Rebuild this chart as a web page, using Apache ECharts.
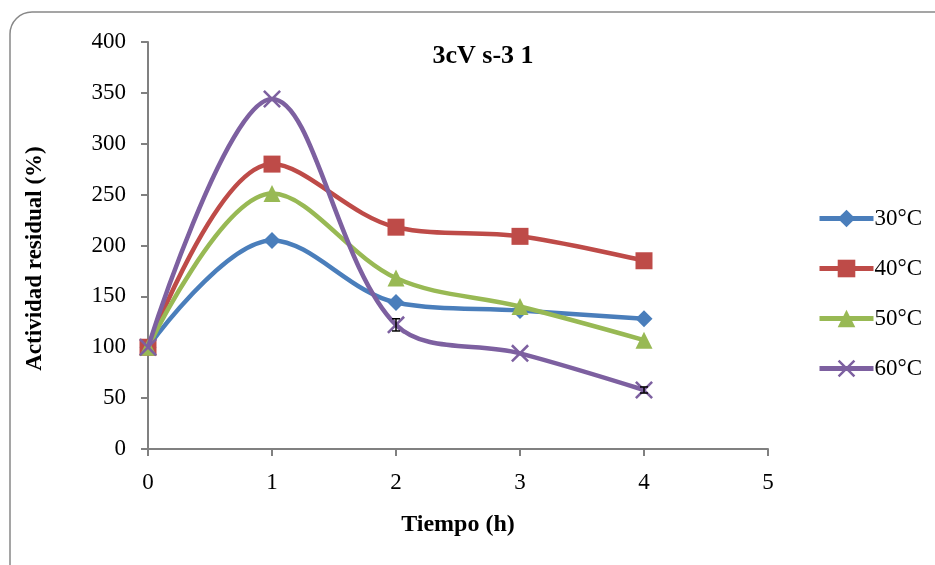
<!DOCTYPE html>
<html>
<head>
<meta charset="utf-8">
<script src="https://cdn.jsdelivr.net/npm/echarts@6/dist/echarts.min.js"></script>
<style>
  html, body { margin: 0; padding: 0; background: #fff; }
  #chart { width: 935px; height: 565px; }
</style>
</head>
<body>
<div id="chart"></div>
<script>
// 时间 (h)
const tiempo = [0, 1, 2, 3, 4];
const nombres = ["30°C", "40°C", "50°C", "60°C"];
const s30 = [100, 205, 144, 136, 128];
const s40 = [100, 280, 218, 209, 185];
const s50 = [100, 251, 168, 140, 107];
const s60 = [100, 344, 122, 94, 58];
// 误差棒 (只有 60°C 看得见)
const err60 = [0, 0, 6, 0, 3];

const colores = ["#4A7EBB", "#BE4B48", "#98B954", "#7D60A0"];
const simbolos = [
  "diamond",
  "rect",
  "triangle",
  "path://M0,1L1,0L10,9L9,10ZM9,0L10,1L1,10L0,9Z",
];
const tamanos = [17, 17, 17, 18];
const fuente = "'Liberation Serif', 'DejaVu Serif', serif";

const valores = [s30, s40, s50, s60];

let series = valores.map((v, i) => {
  return {
    name: nombres[i],
    type: "line",
    smooth: 0.35,
    data: tiempo.map((t, k) => [t, v[k]]),
    symbol: simbolos[i],
    symbolSize: tamanos[i],
    lineStyle: { width: 4.5, color: colores[i] },
    itemStyle: { color: colores[i] },
    z: 2 + i,
  };
});

// 误差棒
series.push({
  type: "custom",
  z: 10,
  silent: true,
  data: tiempo.map((t, k) => [t, s60[k], err60[k]]),
  renderItem: function (params, api) {
    const e = api.value(2);
    if (!e) return null;
    const top = api.coord([api.value(0), api.value(1) + e]);
    const bot = api.coord([api.value(0), api.value(1) - e]);
    const w = 4;
    const st = { stroke: "#000", lineWidth: 1.5 };
    return {
      type: "group",
      children: [
        { type: "line", shape: { x1: top[0], y1: top[1], x2: bot[0], y2: bot[1] }, style: st },
        { type: "line", shape: { x1: top[0] - w, y1: top[1], x2: top[0] + w, y2: top[1] }, style: st },
        { type: "line", shape: { x1: bot[0] - w, y1: bot[1], x2: bot[0] + w, y2: bot[1] }, style: st },
      ],
    };
  },
});

const option = {
  backgroundColor: "#fff",
  animation: false,
  title: {
    text: "3cV s-3 1",
    left: 478,
    textAlign: "center",
    top: 38,
    textStyle: { fontFamily: fuente, fontSize: 26, fontWeight: "bold", color: "#000" },
  },
  graphic: [
    {
      type: "rect",
      shape: { x: 10, y: 12, width: 960, height: 600, r: 22 },
      style: { fill: "none", stroke: "#888", lineWidth: 1.5 },
      z: -1,
    },
  ],
  legend: {
    orient: "vertical",
    left: 812,
    top: 202,
    itemGap: 27,
    itemWidth: 54,
    itemHeight: 22,
    data: nombres,
    lineStyle: { width: 5 },
    textStyle: { fontFamily: fuente, fontSize: 23, color: "#000", padding: [0, 0, 0, -4] },
  },
  grid: { left: 148, right: 167, top: 42, bottom: 116 },
  xAxis: {
    type: "value",
    min: 0,
    max: 5,
    interval: 1,
    name: "Tiempo (h)",
    nameLocation: "middle",
    nameGap: 64,
    nameTextStyle: { fontFamily: fuente, fontSize: 24, fontWeight: "bold", color: "#000" },
    axisLine: { lineStyle: { color: "#808080", width: 2 } },
    axisTick: { show: true, length: 7, lineStyle: { color: "#808080", width: 2 } },
    axisLabel: { fontFamily: fuente, fontSize: 23, color: "#000", margin: 22 },
    splitLine: { show: false },
  },
  yAxis: {
    type: "value",
    min: 0,
    max: 400,
    interval: 50,
    name: "Actividad residual (%)",
    nameLocation: "middle",
    nameGap: 101,
    nameTextStyle: {
      fontFamily: fuente,
      fontSize: 23,
      fontWeight: "bold",
      color: "#000",
      padding: [0, 26, 0, 0],
    },
    axisLine: { show: true, lineStyle: { color: "#808080", width: 2 } },
    axisTick: { show: true, length: 7, lineStyle: { color: "#808080", width: 2 } },
    axisLabel: { fontFamily: fuente, fontSize: 23, color: "#000", margin: 22 },
    splitLine: { show: false },
  },
  series: series,
};

const myChart = echarts.init(document.getElementById("chart"));
myChart.setOption(option);
</script>
</body>
</html>
